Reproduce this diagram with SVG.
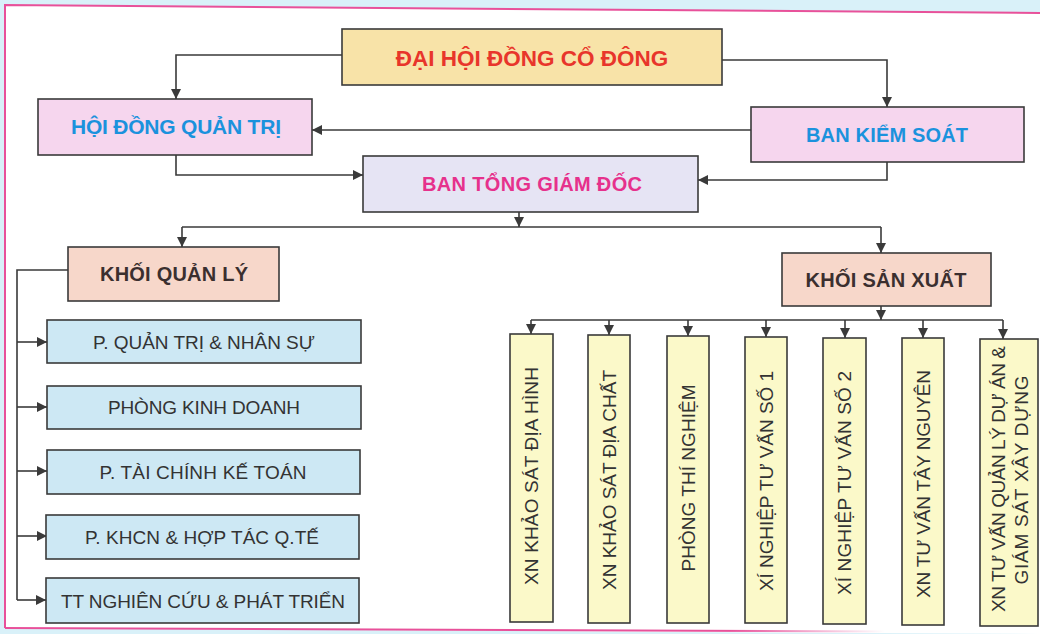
<svg xmlns="http://www.w3.org/2000/svg" width="1040" height="634" viewBox="0 0 1040 634">
<defs>
<marker id="ah" viewBox="0 0 10 10" refX="10" refY="5" markerWidth="10" markerHeight="10" markerUnits="userSpaceOnUse" orient="auto">
<path d="M0,0 L10,5 L0,10 Z" fill="#3a3a3a"/>
</marker>
<linearGradient id="fade" x1="0" y1="0" x2="1" y2="0">
<stop offset="0" stop-color="#e8519a"/>
<stop offset="0.7" stop-color="#e8519a"/>
<stop offset="0.85" stop-color="#e8519a" stop-opacity="0"/>
</linearGradient>
<style>
.b{stroke:#3a3a3a;stroke-width:1.6}
.c{fill:none;stroke:#3a3a3a;stroke-width:1.6;marker-end:url(#ah)}
.l{fill:none;stroke:#3a3a3a;stroke-width:1.6}
.t{font-family:"Liberation Sans",Arial,sans-serif;font-weight:bold;text-anchor:middle}
.r{font-family:"Liberation Sans",Arial,sans-serif;font-size:19px;fill:#333;text-anchor:middle}
.blue{fill:#f6d6ee}
.lb{fill:#cde8f4}
.y{fill:#fbf9c9}
.k{fill:#f7d7ca}
</style>
</defs>
<rect x="0" y="0" width="1040" height="634" fill="#d9f1f9"/>
<polygon points="5,5 1040,13 1040,634 5,628" fill="#ffffff"/>
<path d="M5,628 L5,5 L1040,13" fill="none" stroke="#e8519a" stroke-width="2"/>
<path d="M5,628 L1040,632" fill="none" stroke="url(#fade)" stroke-width="2"/>

<g id="connectors">
<path class="c" d="M342,55 H176 V99"/>
<path class="c" d="M722,60 H887 V107"/>
<path class="c" d="M751,130 H312"/>
<path class="c" d="M176,155 V175 H363"/>
<path class="c" d="M887,162 V180 H698"/>
<path class="c" d="M519,212 V227"/>
<path class="l" d="M182,227 H881"/>
<path class="c" d="M182,227 V247"/>
<path class="c" d="M881,227 V253"/>
<path class="l" d="M68,270 H17 V600"/>
<path class="c" d="M17,342 H47"/>
<path class="c" d="M17,407 H47"/>
<path class="c" d="M17,471 H47"/>
<path class="c" d="M17,536 H47"/>
<path class="c" d="M17,600 H46"/>
<path class="c" d="M881,306 V320"/>
<path class="l" d="M531,320 H1003"/>
<path class="c" d="M531,320 V334"/>
<path class="c" d="M609,320 V335"/>
<path class="c" d="M688,320 V336"/>
<path class="c" d="M766,320 V337"/>
<path class="c" d="M845,320 V338"/>
<path class="c" d="M923,320 V338"/>
<path class="c" d="M1003,320 V339"/>
</g>

<g id="dhdcd">
<rect class="b" x="342" y="29" width="380" height="56" fill="#f8e3a8"/>
<text class="t" x="532" y="66" font-size="22.5" fill="#e8352b">ĐẠI HỘI ĐỒNG CỔ ĐÔNG</text>
</g>
<g id="hdqt">
<rect class="b blue" x="38" y="99" width="274" height="56"/>
<text class="t" x="176" y="134" font-size="21" fill="#1b92dd" textLength="210" lengthAdjust="spacing">HỘI ĐỒNG QUẢN TRỊ</text>
</g>
<g id="bks">
<rect class="b blue" x="751" y="107" width="273" height="55"/>
<text class="t" x="887" y="142" font-size="20" fill="#1b92dd" textLength="162" lengthAdjust="spacing">BAN KIỂM SOÁT</text>
</g>
<g id="btgd">
<rect class="b" x="363" y="156" width="335" height="56" fill="#e6e4f4"/>
<text class="t" x="532" y="191" font-size="20" fill="#e6318c" textLength="220" lengthAdjust="spacing">BAN TỔNG GIÁM ĐỐC</text>
</g>
<g id="kql">
<rect class="b k" x="68" y="247" width="211" height="54"/>
<text class="t" x="174" y="281" font-size="20" fill="#3b2f2f" textLength="148" lengthAdjust="spacing">KHỐI QUẢN LÝ</text>
</g>
<g id="ksx">
<rect class="b k" x="782" y="253" width="209" height="53"/>
<text class="t" x="886" y="287" font-size="20" fill="#3b2f2f" textLength="161" lengthAdjust="spacing">KHỐI SẢN XUẤT</text>
</g>

<g id="p1">
<rect class="b lb" x="47" y="320" width="314" height="43"/>
<text class="r" x="204" y="349" textLength="222" lengthAdjust="spacing">P. QUẢN TRỊ &amp; NHÂN SỰ</text>
</g>
<g id="p2">
<rect class="b lb" x="47" y="386" width="314" height="43"/>
<text class="r" x="204" y="414" textLength="192" lengthAdjust="spacing">PHÒNG KINH DOANH</text>
</g>
<g id="p3">
<rect class="b lb" x="47" y="450" width="313" height="44"/>
<text class="r" x="203" y="479" textLength="207" lengthAdjust="spacing">P. TÀI CHÍNH KẾ TOÁN</text>
</g>
<g id="p4">
<rect class="b lb" x="46" y="515" width="313" height="44"/>
<text class="r" x="202" y="544" textLength="234" lengthAdjust="spacing">P. KHCN &amp; HỢP TÁC Q.TẾ</text>
</g>
<g id="p5">
<rect class="b lb" x="46" y="578" width="313" height="45"/>
<text class="r" x="203" y="608" textLength="284" lengthAdjust="spacing">TT NGHIÊN CỨU &amp; PHÁT TRIỂN</text>
</g>

<g id="x1">
<rect class="b y" x="510" y="334" width="43" height="288"/>
<text class="r" transform="translate(531,476) rotate(-90)" y="7" textLength="218" lengthAdjust="spacing">XN KHẢO SÁT ĐỊA HÌNH</text>
</g>
<g id="x2">
<rect class="b y" x="588" y="335" width="42" height="288"/>
<text class="r" transform="translate(609,480) rotate(-90)" y="7" textLength="220" lengthAdjust="spacing">XN KHẢO SÁT ĐỊA CHẤT</text>
</g>
<g id="x3">
<rect class="b y" x="667" y="336" width="42" height="287"/>
<text class="r" transform="translate(688,478) rotate(-90)" y="7" textLength="187" lengthAdjust="spacing">PHÒNG THÍ NGHIỆM</text>
</g>
<g id="x4">
<rect class="b y" x="745" y="337" width="42" height="286"/>
<text class="r" transform="translate(766,481) rotate(-90)" y="7" textLength="220" lengthAdjust="spacing">XÍ NGHIỆP TƯ VẤN SỐ 1</text>
</g>
<g id="x5">
<rect class="b y" x="823" y="338" width="43" height="286"/>
<text class="r" transform="translate(844,483) rotate(-90)" y="7" textLength="224" lengthAdjust="spacing">XÍ NGHIỆP TƯ VẤN SỐ 2</text>
</g>
<g id="x6">
<rect class="b y" x="902" y="338" width="42" height="287"/>
<text class="r" transform="translate(923,484) rotate(-90)" y="7" textLength="228" lengthAdjust="spacing">XN TƯ VẤN TÂY NGUYÊN</text>
</g>
<g id="x7">
<rect class="b y" x="980" y="339" width="58" height="287"/>
<text class="r" transform="translate(998,479) rotate(-90)" y="7" textLength="266" lengthAdjust="spacing">XN TƯ VẤN QUẢN LÝ DỰ ÁN &amp;</text>
<text class="r" transform="translate(1021,480) rotate(-90)" y="7" textLength="209" lengthAdjust="spacing">GIÁM SÁT XÂY DỰNG</text>
</g>
</svg>
